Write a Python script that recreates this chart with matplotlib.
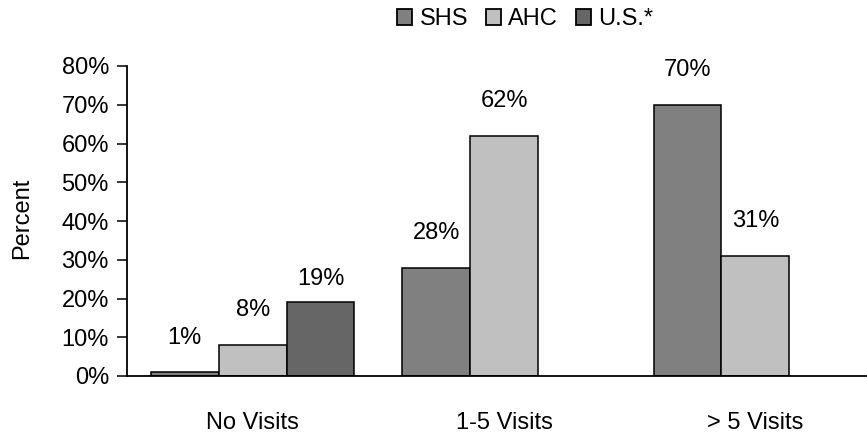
import matplotlib
matplotlib.use("Agg")
import matplotlib.pyplot as plt
import numpy as np
from matplotlib.patches import Patch

plt.rcParams['font.family'] = ['Liberation Sans', 'DejaVu Sans']

categories = ['No Visits', '1-5 Visits', '> 5 Visits']
series = ['SHS', 'AHC', 'U.S.*']
shs = [1, 28, 70]
ahc = [8, 62, 31]
us = [19, None, None]

colors = ['#808080', '#c0c0c0', '#666666']
label_pad = [[17, 17, 9], [17, 17, None], [17, 17, None]]
fs = 17

fig = plt.figure(figsize=(8.67, 4.34), dpi=100)
ax = fig.add_axes([127 / 867, 58 / 434, 739 / 867, 310 / 434])

x = np.arange(len(categories))
w = 0.27
for k, (vals, col) in enumerate(zip([shs, ahc, us], colors)):
    for i, v in enumerate(vals):
        if v is None:
            continue
        xi = x[i] + (k - 1) * w
        ax.bar(xi, v, width=w, color=col, edgecolor='black', linewidth=1.1)
        ax.annotate(f'{v}%', (xi, v), xytext=(0, label_pad[i][k]),
                    textcoords='offset points', ha='center', va='bottom',
                    fontsize=fs)

ax.set_xlim(-0.5, 2.44)
ax.set_ylim(0, 80)
ax.set_yticks(range(0, 81, 10))
ax.set_yticklabels([f'{t}%' for t in range(0, 81, 10)])
ax.set_xticks(x)
ax.set_xticklabels(categories)
ax.tick_params(axis='y', length=7.5, width=1.1, pad=5.5, labelsize=fs)
ax.tick_params(axis='x', length=0, pad=26, labelsize=fs)
ax.set_ylabel('Percent', fontsize=fs, va='center')
ax.yaxis.set_label_coords(-0.142, 0.51)

for s in ['top', 'right']:
    ax.spines[s].set_visible(False)
for s in ['left', 'bottom']:
    ax.spines[s].set_linewidth(1.3)

handles = [Patch(facecolor=c, edgecolor='black', linewidth=1.3) for c in colors]
fig.legend(handles, series, loc='center', bbox_to_anchor=(525 / 867, 1 - 19 / 434),
           ncol=3, frameon=False, fontsize=fs, handlelength=0.65,
           handleheight=0.65, handletextpad=0.3, columnspacing=0.75,
           borderaxespad=0, borderpad=0)

fig.savefig('out.png', dpi=100)
